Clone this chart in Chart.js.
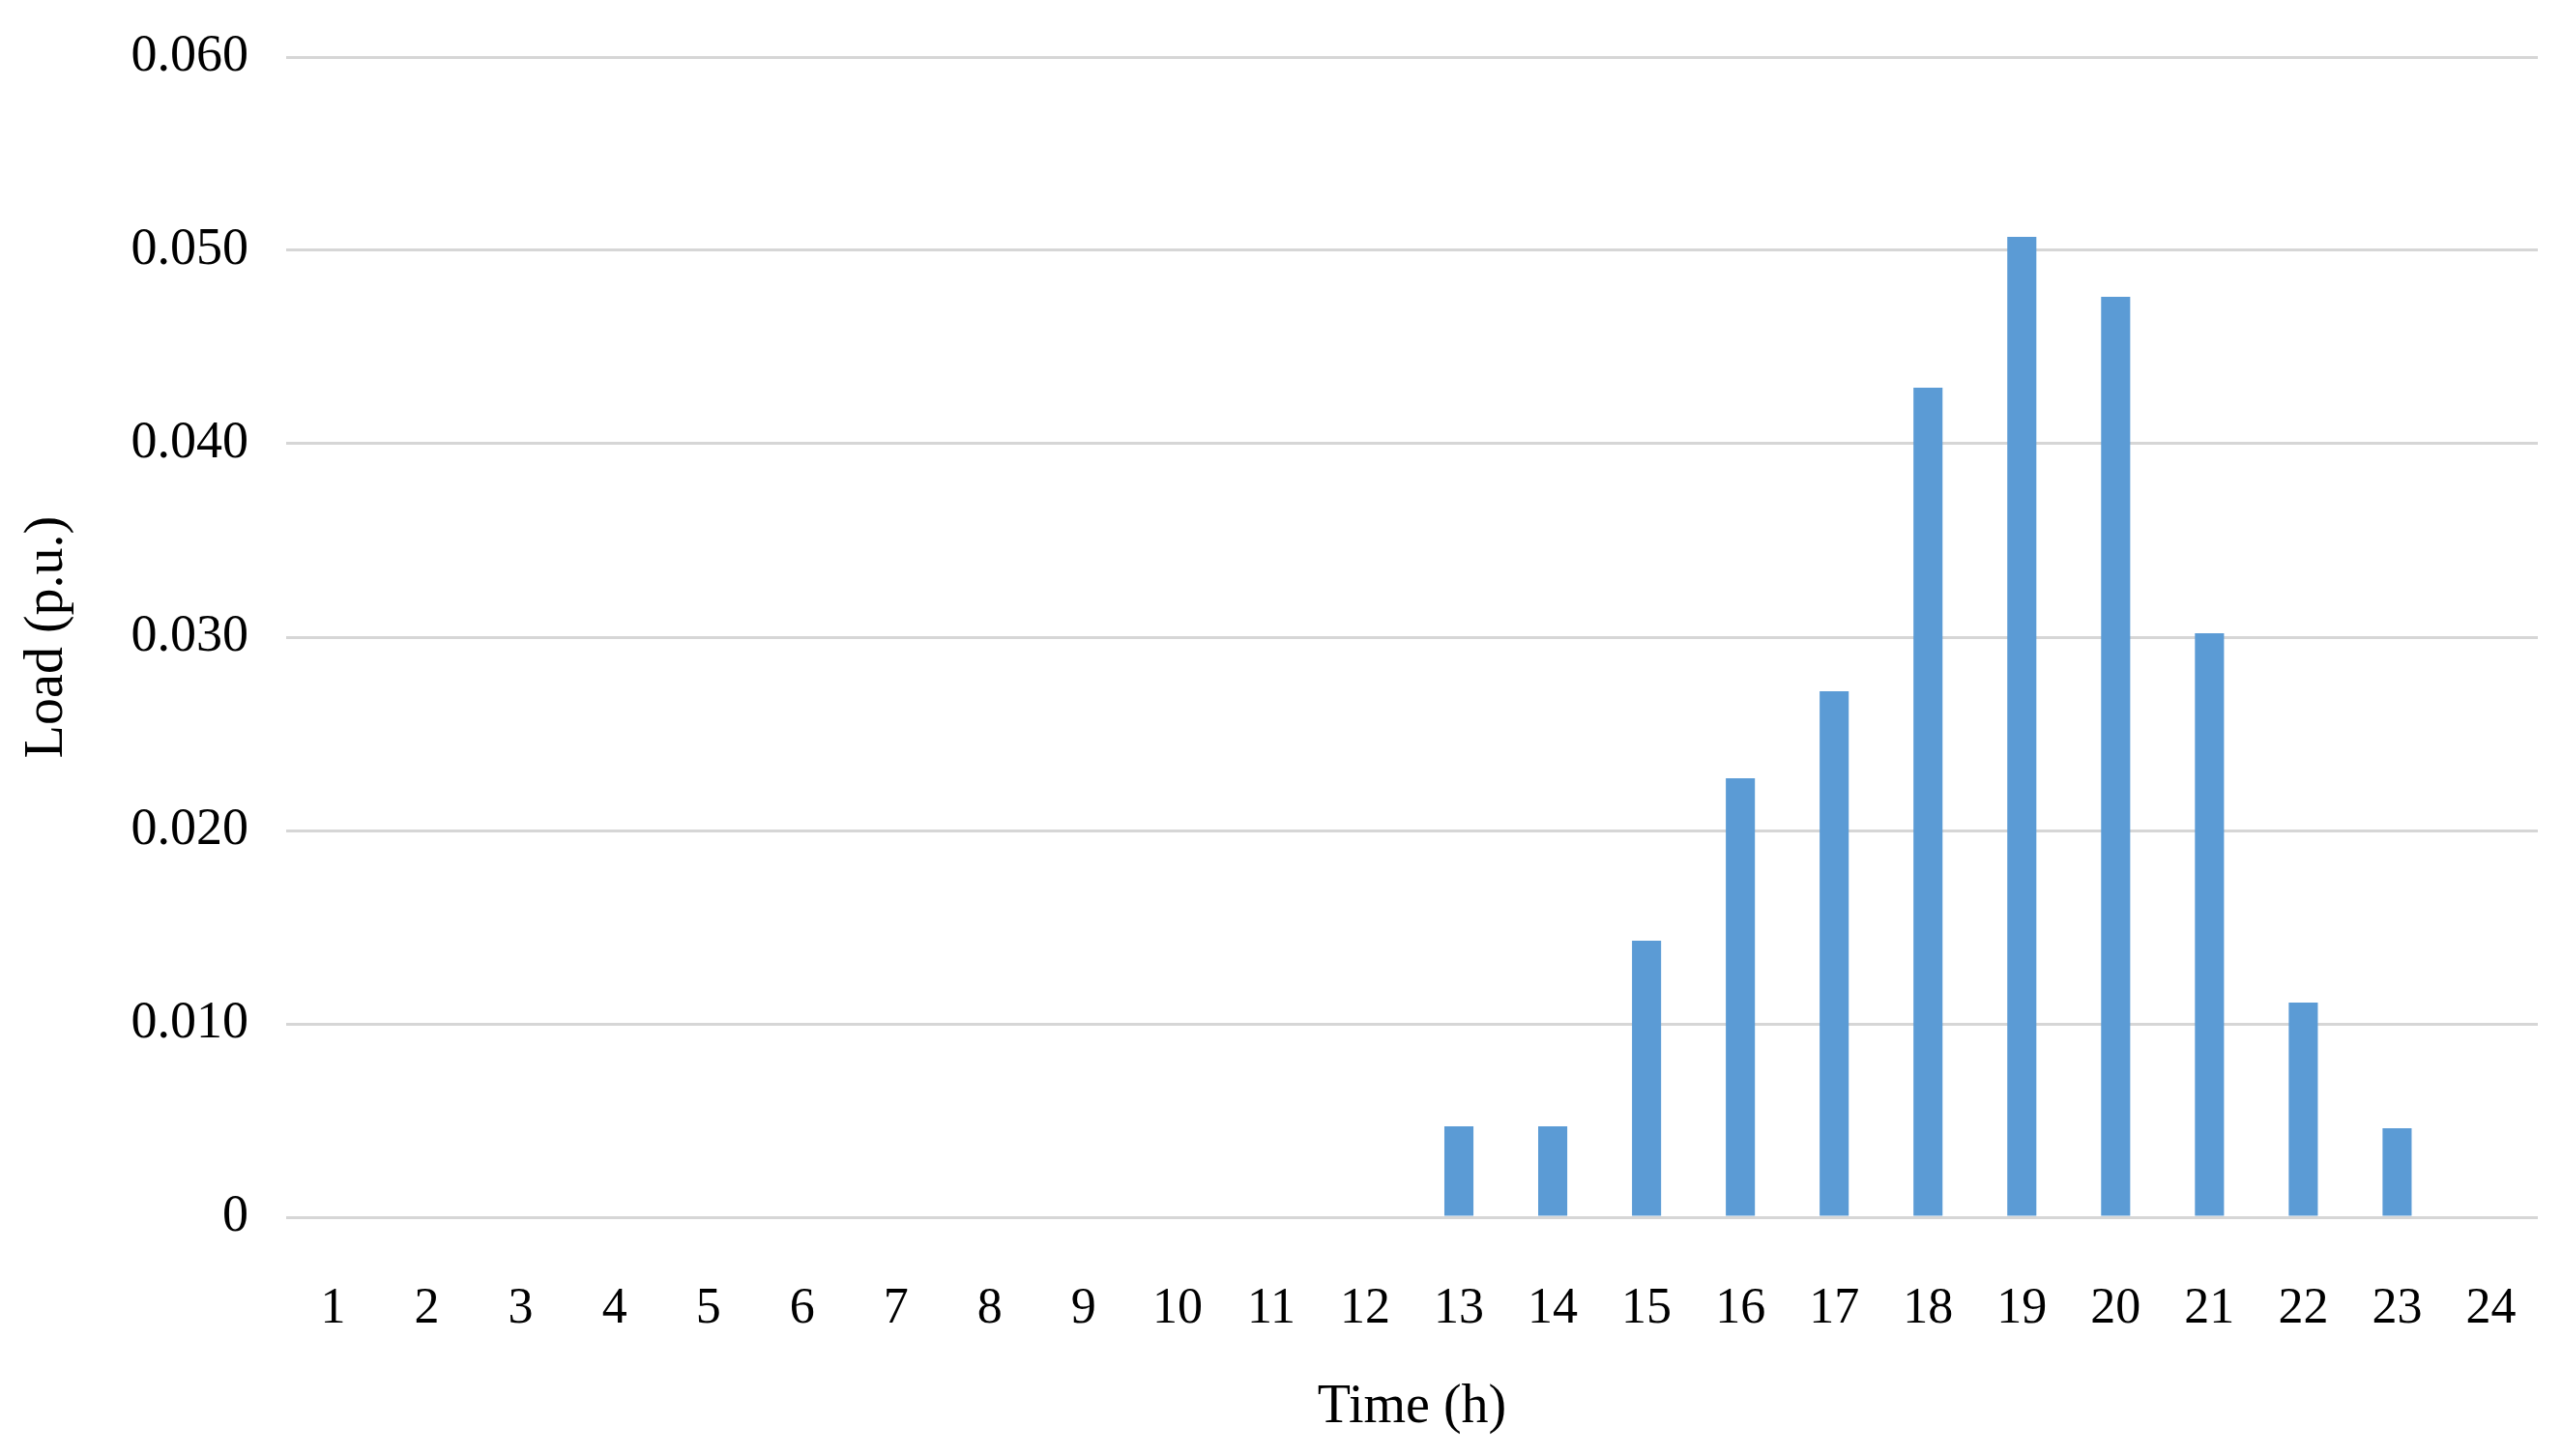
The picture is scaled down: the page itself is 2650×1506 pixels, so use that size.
<!DOCTYPE html>
<html>
<head>
<meta charset="utf-8">
<script src="https://cdn.jsdelivr.net/npm/chart.js@4/dist/chart.umd.min.js"></script>
<style>
  html, body { margin: 0; padding: 0; background: #ffffff; }
  #wrap { width: 2650px; height: 1506px; }
</style>
</head>
<body>
<div id="wrap"><canvas id="c" width="2650" height="1506"></canvas></div>
<script>
// ---- Data ----
const hours = ['1','2','3','4','5','6','7','8','9','10','11','12','13','14','15','16','17','18','19','20','21','22','23','24'];
const loadValues = [0,0,0,0,0,0,0,0,0,0,0,0,0.0047,0.0047,0.0143,0.0227,0.0272,0.0429,0.0507,0.0476,0.0302,0.0111,0.0046,0];
const yTickValues = [0, 0.01, 0.02, 0.03, 0.04, 0.05, 0.06];
const yTickLabels = ['0', '0.010', '0.020', '0.030', '0.040', '0.050', '0.060'];
const xTitle = 'Time (h)';
const yTitle = 'Load (p.u.)';

const FONT = "'Liberation Serif', 'Times New Roman', serif";

new Chart(document.getElementById('c'), {
  type: 'bar',
  data: {
    labels: hours,
    datasets: [{
      label: 'Load',
      data: loadValues,
      backgroundColor: '#5B9BD5',
      borderWidth: 0,
      barPercentage: 0.31,
      categoryPercentage: 1.0
    }]
  },
  options: {
    responsive: false,
    animation: false,
    devicePixelRatio: 1,
    layout: { padding: { top: 59, right: 25, bottom: 0, left: 0 } },
    plugins: { legend: { display: false }, tooltip: { enabled: false } },
    scales: {
      x: {
        grid: { display: false, drawTicks: false },
        border: { display: false },
        ticks: {
          color: '#000000',
          font: { family: FONT, size: 52 },
          padding: 64,
          maxRotation: 0,
          autoSkip: false
        },
        title: {
          display: true,
          text: xTitle,
          color: '#000000',
          font: { family: FONT, size: 56 },
          padding: { top: 0, bottom: 16 }
        },
        afterFit: (axis) => {
          axis.height = 247;
          axis.paddingLeft = 0; axis.paddingRight = 0;
          axis.paddingTop = 0; axis.paddingBottom = 0;
        }
      },
      y: {
        min: 0,
        max: 0.06,
        afterBuildTicks: (axis) => { axis.ticks = yTickValues.map(v => ({ value: v })); },
        grid: { color: '#D6D6D6', lineWidth: 3, drawTicks: false },
        border: { display: false },
        ticks: {
          color: '#000000',
          font: { family: FONT, size: 54 },
          padding: 39,
          callback: (value) => {
            const i = yTickValues.findIndex(v => Math.abs(v - value) < 1e-9);
            return i >= 0 ? yTickLabels[i] : '';
          }
        },
        title: {
          display: true,
          text: yTitle,
          color: '#000000',
          font: { family: FONT, size: 56 },
          padding: { top: 16, bottom: 0 }
        },
        afterFit: (axis) => {
          axis.width = 296;
          axis.paddingTop = 0; axis.paddingBottom = 0;
          axis.paddingLeft = 0; axis.paddingRight = 0;
        }
      }
    }
  }
});
</script>
</body>
</html>
